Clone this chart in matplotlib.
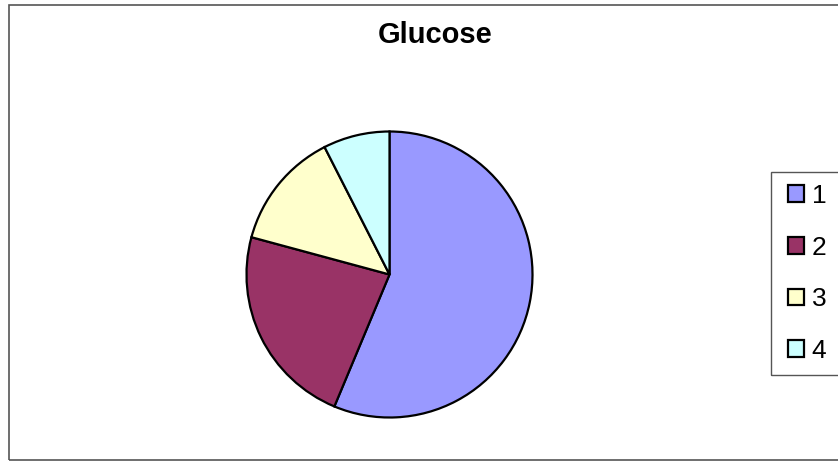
import matplotlib.pyplot as plt
from matplotlib.patches import Rectangle

# data
labels = ['1', '2', '3', '4']
values = [56.3, 22.9, 13.3, 7.5]
colors = ['#9999FF', '#993366', '#FFFFCC', '#CCFFFF']

plt.rcParams['font.family'] = ['Liberation Sans', 'DejaVu Sans']

W, H = 838, 462
fig = plt.figure(figsize=(W / 100, H / 100), dpi=100)

# outer chart frame (right side runs off the image)
fig.patches.append(Rectangle((8.5 / W, 2 / H), 1.0, (460 - 5) / H,
                             transform=fig.transFigure, fill=False,
                             edgecolor='#555555', lw=1.2))

# pie centred at (389.5, 274.5) px, radius 143 px
cx, cy, r = 389.5, 274.5, 143
ax = fig.add_axes([(cx - r) / W, (H - cy - r) / H, 2 * r / W, 2 * r / H])
wedges, _ = ax.pie(values, colors=colors, startangle=90, counterclock=False,
                   wedgeprops=dict(edgecolor='black', linewidth=1.6))
ax.set_xlim(-1, 1)
ax.set_ylim(-1, 1)

fig.text(435 / W, 1 - 35 / H, 'Glucose', ha='center', va='center',
         fontsize=21, fontweight='bold')

# legend frame
fig.patches.append(Rectangle((771 / W, (H - 375) / H), 1.0, (375 - 172) / H,
                             transform=fig.transFigure, fill=False,
                             edgecolor='#555555', lw=1.0))
leg = fig.legend(wedges, labels, loc='center left',
                 bbox_to_anchor=(788 / W, 1 - 273.5 / H),
                 frameon=False, fontsize=19, handlelength=0.6,
                 handleheight=0.6, handletextpad=0.3, labelspacing=1.05,
                 borderpad=0, borderaxespad=0)
for h in leg.legend_handles:
    h.set_linewidth(1.6)
    h.set_edgecolor('black')

fig.savefig('out.png', dpi=100)
